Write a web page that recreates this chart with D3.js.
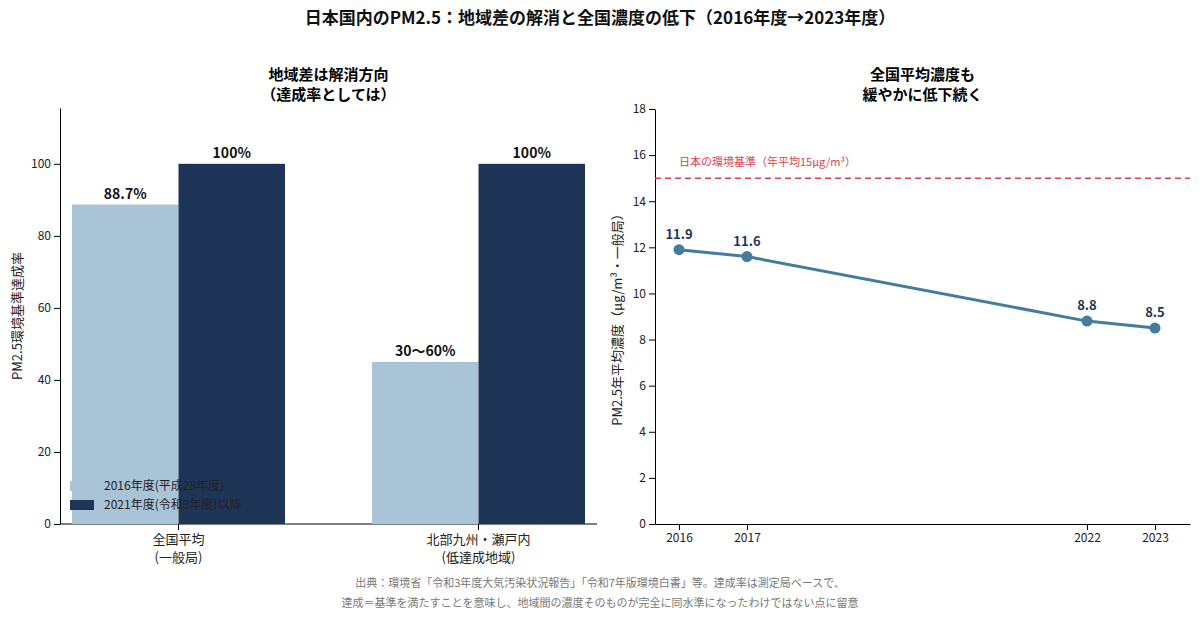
<!DOCTYPE html>
<html lang="ja">
<head>
<meta charset="UTF-8">
<script src="https://d3js.org/d3.v7.min.js"></script>
<style>
  body { margin: 0; background: #fff; font-family: "Noto Sans CJK JP", "Noto Sans", sans-serif; }
  text { font-family: "Noto Sans CJK JP", "Noto Sans", sans-serif; }
</style>
</head>
<body>
<svg id="chart" width="1200" height="619"></svg>
<script>
// —— data ——
const regions = ["全国平均\n(一般局)", "北部九州・瀬戸内\n(低達成地域)"];
const rate2016 = [88.7, 45];
const rate2021 = [100, 100];
const labels2016 = ["88.7%", "30〜60%"];
const labels2021 = ["100%", "100%"];
const seriesNames = ["2016年度(平成28年度)", "2021年度(令和3年度)以降"];

const years = [2016, 2017, 2022, 2023];
const pm25 = [11.9, 11.6, 8.8, 8.5];
const standard = 15;

const cLight = "#a9c4d6", cDark = "#1f3558", cLine = "#457b9d", cRed = "#d9434f";

const svg = d3.select("#chart");

svg.append("text").attr("x", 600).attr("y", 24).attr("text-anchor", "middle")
  .attr("font-size", 17).attr("font-weight", "bold").attr("fill", "#111")
  .text("日本国内のPM2.5：地域差の解消と全国濃度の低下（2016年度→2023年度）");

// —— left panel ——
const L = { x0: 60, x1: 597, y0: 524, y1: 108 };
const yL = d3.scaleLinear().domain([0, 115.5]).range([L.y0, L.y1]);
const xL = d3.scaleBand().domain(regions).range([L.x0, L.x1]).paddingInner(0.29).paddingOuter(0.04);
const bw = xL.bandwidth() / 2;

const gL = svg.append("g");
gL.append("g").attr("transform", `translate(${L.x0},0)`)
  .call(d3.axisLeft(yL).tickValues([0, 20, 40, 60, 80, 100]).tickSizeOuter(0))
  .call(g => g.selectAll("text").attr("font-size", 12).attr("fill", "#222"));
gL.append("g").attr("transform", `translate(0,${L.y0})`)
  .call(d3.axisBottom(xL).tickSizeOuter(0).tickFormat(""))
  .call(g => g.select(".domain").attr("d", `M${L.x0},0H${L.x1}`));

regions.forEach((r, i) => {
  const cx = xL(r) + bw;
  const t = gL.append("text").attr("x", cx).attr("y", L.y0 + 20).attr("text-anchor", "middle")
    .attr("font-size", 13).attr("fill", "#222");
  r.split("\n").forEach((s, k) => t.append("tspan").attr("x", cx).attr("dy", k ? 18 : 0).text(s));
});

[[rate2016, cLight, labels2016, 0], [rate2021, cDark, labels2021, 1]].forEach(([vals, col, lab, k]) => {
  gL.selectAll(null).data(regions).join("rect")
    .attr("x", d => xL(d) + k * bw).attr("width", bw)
    .attr("y", (d, i) => yL(vals[i])).attr("height", (d, i) => L.y0 - yL(vals[i]))
    .attr("fill", col);
  gL.selectAll(null).data(regions).join("text")
    .attr("x", d => xL(d) + k * bw + bw / 2).attr("y", (d, i) => yL(vals[i]) - 6)
    .attr("text-anchor", "middle").attr("font-size", 14).attr("font-weight", "bold").attr("fill", "#111")
    .text((d, i) => lab[i]);
});

gL.append("text").attr("transform", `translate(22,${(L.y0 + L.y1) / 2}) rotate(-90)`)
  .attr("text-anchor", "middle").attr("font-size", 13).attr("fill", "#222").text("PM2.5環境基準達成率");
gL.append("text").attr("x", (L.x0 + L.x1) / 2).attr("y", 80).attr("text-anchor", "middle")
  .attr("font-size", 15).attr("font-weight", "bold").text("地域差は解消方向");
gL.append("text").attr("x", (L.x0 + L.x1) / 2).attr("y", 100).attr("text-anchor", "middle")
  .attr("font-size", 15).attr("font-weight", "bold").text("（達成率としては）");

seriesNames.forEach((s, i) => {
  const y = 481 + i * 19;
  gL.append("rect").attr("x", 70).attr("y", y).attr("width", 24).attr("height", 10).attr("fill", i ? cDark : cLight);
  gL.append("text").attr("x", 104).attr("y", y + 9).attr("font-size", 12).attr("fill", "#222").text(s);
});

// —— right panel ——
const R = { x0: 655, x1: 1190, y0: 524, y1: 109 };
const yR = d3.scaleLinear().domain([0, 18]).range([R.y0, R.y1]);
const xR = d3.scaleLinear().domain([2015.647, 2023.515]).range([R.x0, R.x1]);
const gR = svg.append("g");
gR.append("g").attr("transform", `translate(${R.x0},0)`)
  .call(d3.axisLeft(yR).tickValues(d3.range(0, 19, 2)).tickSizeOuter(0))
  .call(g => g.selectAll("text").attr("font-size", 12).attr("fill", "#222"));
gR.append("g").attr("transform", `translate(0,${R.y0})`)
  .call(d3.axisBottom(xR).tickValues(years).tickFormat(d3.format("d")).tickSizeOuter(0))
  .call(g => g.selectAll("text").attr("font-size", 12).attr("fill", "#222"));

gR.append("line").attr("x1", R.x0).attr("x2", R.x1).attr("y1", yR(standard)).attr("y2", yR(standard))
  .attr("stroke", cRed).attr("stroke-width", 1.5).attr("stroke-dasharray", "6,4");
gR.append("text").attr("x", 679).attr("y", yR(standard) - 12).attr("font-size", 11).attr("fill", cRed)
  .text("日本の環境基準（年平均15μg/m³）");

gR.append("path").datum(years)
  .attr("d", d3.line().x(d => xR(d)).y((d, i) => yR(pm25[i])))
  .attr("fill", "none").attr("stroke", cLine).attr("stroke-width", 3);
gR.selectAll(null).data(years).join("circle")
  .attr("cx", d => xR(d)).attr("cy", (d, i) => yR(pm25[i])).attr("r", 5.5).attr("fill", cLine);
gR.selectAll(null).data(years).join("text")
  .attr("x", d => xR(d)).attr("y", (d, i) => yR(pm25[i]) - 11).attr("text-anchor", "middle")
  .attr("font-size", 13).attr("font-weight", "bold").attr("fill", cDark)
  .text((d, i) => pm25[i].toFixed(1));

gR.append("text").attr("transform", `translate(622,${(R.y0 + R.y1) / 2}) rotate(-90)`)
  .attr("text-anchor", "middle").attr("font-size", 13).attr("fill", "#222").text("PM2.5年平均濃度（μg/m³・一般局）");
gR.append("text").attr("x", (R.x0 + R.x1) / 2).attr("y", 80).attr("text-anchor", "middle")
  .attr("font-size", 15).attr("font-weight", "bold").text("全国平均濃度も");
gR.append("text").attr("x", (R.x0 + R.x1) / 2).attr("y", 100).attr("text-anchor", "middle")
  .attr("font-size", 15).attr("font-weight", "bold").text("緩やかに低下続く");

// —— footer ——
["出典：環境省「令和3年度大気汚染状況報告」「令和7年版環境白書」等。達成率は測定局ベースで、",
 "達成＝基準を満たすことを意味し、地域間の濃度そのものが完全に同水準になったわけではない点に留意"]
  .forEach((s, i) => svg.append("text").attr("x", 600).attr("y", 587 + i * 20).attr("text-anchor", "middle")
    .attr("font-size", 11).attr("fill", "#777").text(s));
</script>
</body>
</html>
